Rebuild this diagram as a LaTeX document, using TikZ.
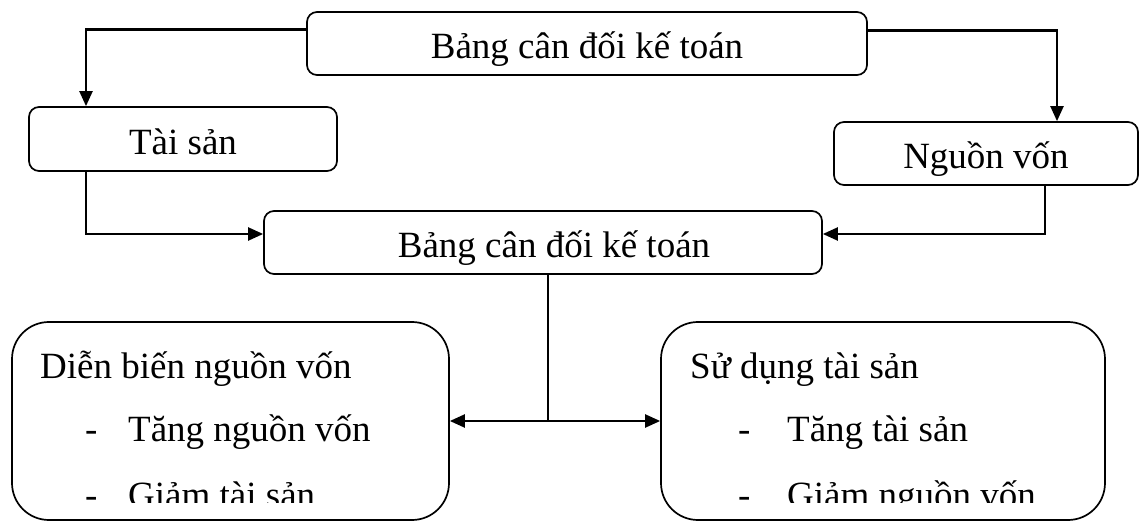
\documentclass[tikz,border=0pt]{standalone}
\usepackage{fontspec}
\setmainfont{Liberation Serif}
\usetikzlibrary{arrows.meta}

\begin{document}
\begin{tikzpicture}[x=1pt, y=-1pt,
    every node/.style={font=\fontsize{37}{44}\selectfont, inner sep=0pt},
    box/.style={draw, line width=1.7pt, rounded corners=10pt, text height=35pt, text depth=4.5pt},
    bigbox/.style={draw, line width=1.7pt, rounded corners=37pt, minimum width=#1, minimum height=198pt},
    conn/.style={line width=2.2pt, -{Triangle[length=15pt, width=13pt]}},
    thinline/.style={line width=1.5pt}]
    \useasboundingbox (0,0) rectangle (1141,521);

    % Draw the boxes on top
    \node[box, minimum width=560pt, minimum height=63pt] (bang) at (587,43.5) {Bảng cân đối kế toán};
    \node[box, minimum width=308pt, minimum height=64pt] (taisan) at (183,139) {Tài sản};
    \node[box, minimum width=304pt, minimum height=63pt] (nguon) at (986,153.5) {Nguồn vốn};
    \node[box, minimum width=558pt, minimum height=63pt] (mid) at (543,242.5) {\hspace*{22pt}Bảng cân đối kế toán};

    % Draw the two boxes at the bottom
    \node[bigbox=437pt] (dien) at (230.5,421) {};
    \node[bigbox=444pt] (sudung) at (883,421) {};

    % Text of the bottom boxes
    \node[anchor=base west] (dientitle) at (40,378) {Diễn biến nguồn vốn};
    \node[anchor=base west] (diendasha) at (85,441) {-};
    \node[anchor=base west] (dienitema) at (128,441) {Tăng nguồn vốn};
    \node[anchor=base west] (diendashb) at (85,507) {-};
    \node[anchor=base west] (sutitle) at (690,378) {Sử dụng tài sản};
    \node[anchor=base west] (sudasha) at (738,441) {-};
    \node[anchor=base west] (suitema) at (787,441) {Tăng tài sản};
    \node[anchor=base west] (sudashb) at (738,507) {-};
    \begin{scope}
        \clip (0,0) rectangle (1141,502);
        \node[anchor=base west] (dienitemb) at (128,507) {Giảm tài sản};
        \node[anchor=base west] (suitemb) at (787,507) {Giảm nguồn vốn};
    \end{scope}

    % Draw the connectors
    \draw[conn] ([yshift=14pt]bang.west) -| ([xshift=-97pt]taisan.north);
    \draw[conn] ([yshift=13pt]bang.east) -| ([xshift=71pt]nguon.north);
    \draw[conn] ([xshift=-97pt]taisan.south) |- ([yshift=8.5pt]mid.west);
    \draw[conn] ([xshift=59pt]nguon.south) |- ([yshift=8.5pt]mid.east);
    \draw[thinline] ([xshift=5pt]mid.south) -- ([xshift=5pt]mid.south |- dien.east);
    \draw[conn, {Triangle[length=15pt, width=13pt]}-{Triangle[length=15pt, width=13pt]}] (dien.east) -- (sudung.west);

\end{tikzpicture}
\end{document}
